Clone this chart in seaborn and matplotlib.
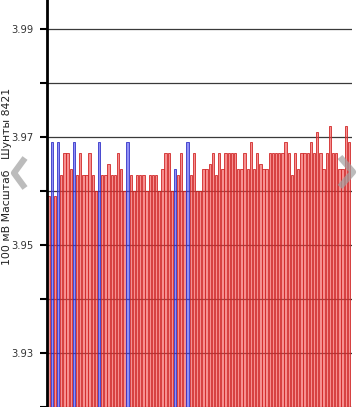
import numpy as np
import pandas as pd
import matplotlib.pyplot as plt
import seaborn as sns
from matplotlib.lines import Line2D

# bar heights (volts), left to right
values = [3.959, 3.969, 3.959, 3.969, 3.963, 3.967, 3.967, 3.964, 3.969, 3.963,
          3.967, 3.963, 3.963, 3.967, 3.963, 3.960, 3.969, 3.963, 3.963, 3.965,
          3.963, 3.963, 3.967, 3.964, 3.960, 3.969, 3.963, 3.960, 3.963, 3.963,
          3.963, 3.960, 3.963, 3.963, 3.963, 3.960, 3.964, 3.967, 3.967, 3.960,
          3.964, 3.963, 3.967, 3.960, 3.969, 3.963, 3.967, 3.960, 3.960, 3.964,
          3.964, 3.965, 3.967, 3.963, 3.967, 3.964, 3.967, 3.967, 3.967, 3.967,
          3.964, 3.964, 3.967, 3.964, 3.969, 3.964, 3.967, 3.965, 3.964, 3.964,
          3.967, 3.967, 3.967, 3.967, 3.967, 3.969, 3.967, 3.963, 3.967, 3.964,
          3.967, 3.967, 3.967, 3.969, 3.967, 3.971, 3.967, 3.964, 3.967, 3.972,
          3.967, 3.967, 3.964, 3.964, 3.972, 3.969]
blue_bars = [1, 3, 8, 16, 25, 40, 44]
ticks = [3.92, 3.93, 3.94, 3.95, 3.96, 3.97, 3.98, 3.99]
tick_labels = ['', '3.93', '', '3.95', '', '3.97', '', '3.99']
ylabel = '100 мВ Масштаб   Шунты 8421'

df = pd.DataFrame({'n': range(len(values)), 'v': values})
df['kind'] = ['blue' if i in blue_bars else 'red' for i in df['n']]

sns.set_style('white')
plt.rcParams['font.family'] = ['DejaVu Sans']

W, H = 360, 407
fig = plt.figure(figsize=(W / 100, H / 100), dpi=100)
ax = fig.add_axes([47 / W, 0, 305 / W, 1])

sns.barplot(data=df, x='n', y='v', hue='kind', palette={'red': '#f04848', 'blue': '#4848f0'},
            dodge=False, width=0.74, saturation=1, legend=False, ax=ax)

face = {'red': (0.94, 0.28, 0.28, 0.6), 'blue': (0.28, 0.28, 0.94, 0.6)}
edge = {'red': (0.82, 0.16, 0.16, 1), 'blue': (0.2, 0.2, 0.78, 1)}
for p in ax.patches:
    k = 'blue' if p.get_facecolor()[2] > p.get_facecolor()[0] else 'red'
    p.set_facecolor(face[k])
    p.set_edgecolor(edge[k])
    p.set_linewidth(0.6)

ax.set_xlim(-0.5, 96.0)
ax.set_ylim(3.92, 3.99537)
ax.set_yticks(ticks)
ax.set_yticklabels(tick_labels)
ax.yaxis.grid(True, color='#3a3a3a', linewidth=0.9)
ax.set_axisbelow(True)
ax.set_xticks([])
ax.set_xlabel('')
ax.set_ylabel('')
ax.tick_params(axis='y', length=5, width=1.5, color='black', labelsize=7.2, labelcolor='#333333', pad=4.5, left=True)
for s in ['top', 'right', 'bottom']:
    ax.spines[s].set_visible(False)
ax.spines['left'].set_color('black')
ax.spines['left'].set_linewidth(2)

fig.text(7 / W, 1 - 176 / H, ylabel, rotation=90, ha='center', va='center',
         fontsize=7.8, color='#222222')

# grey navigation chevrons over the chart
def px(xs, ys):
    return [x / W for x in xs], [1 - y / H for y in ys]

for xs, ys in [([25, 14, 25], [158, 173, 188]), ([340, 353, 340], [157, 172, 187])]:
    fx, fy = px(xs, ys)
    fig.add_artist(Line2D(fx, fy, transform=fig.transFigure, color='#a0a0a0',
                          alpha=0.7, linewidth=4.5, solid_capstyle='butt'))

fig.savefig('out.png', dpi=100)
